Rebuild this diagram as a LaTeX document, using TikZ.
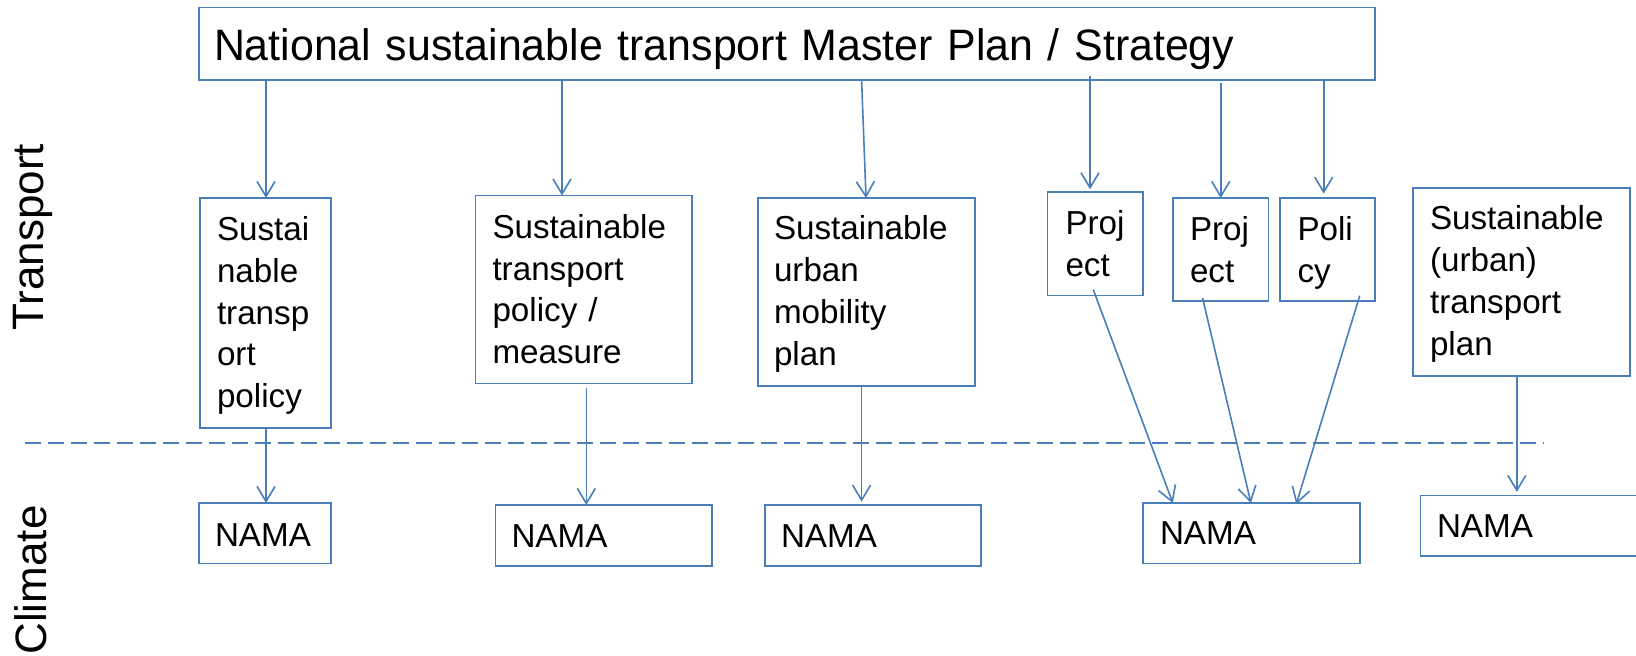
\documentclass[tikz,border=0pt]{standalone}
\usepackage{fontspec}
\setmainfont{Liberation Sans}
\newfontfamily\condfont[FakeStretch=0.975]{Liberation Sans}
\usetikzlibrary{arrows.meta,calc}
\definecolor{lc}{RGB}{74,126,187}
\begin{document}
\begin{tikzpicture}[x=0.5pt,y=-0.5pt,
  box/.style={draw=lc, line width=0.8pt, anchor=base west, align=left,
    inner ysep=0pt, outer sep=0pt, font=\fontsize{16.6}{20.9}\selectfont},
  arr/.style={draw=lc, line width=0.8pt, -{Straight Barb[length=7.5pt,width=9pt]}},
  sep/.style={draw=lc, line width=1pt, dash pattern=on 8pt off 3.5pt},
  lbl/.style={rotate=90, anchor=base west, inner sep=0pt, font=\fontsize{22}{26}\selectfont}]
\useasboundingbox (0,0) rectangle (1636,656);
\clip (0,0) rectangle (1636,656);
% boxes
\node[box, font=\condfont\fontsize{22}{26}\selectfont, inner xsep=7.5pt, text width=573pt, text height=26.75pt, text depth=9.5pt] (top) at (199,61) {National sustainable transport Master Plan / Strategy};
\node[box, inner xsep=8.5pt, text width=48.5pt, text height=21.25pt, text depth=93.75pt] (b1) at (200,240.5) {Sustai\\nable\\transp\\ort\\policy};
\node[box, inner xsep=8.5pt, text width=91.25pt, text height=21.4pt, text depth=72.6pt] (b2) at (475.5,238.3) {Sustainable\\transport\\policy /\\measure};
\node[box, inner xsep=8pt, text width=92.5pt, text height=21pt, text depth=73pt] (b3) at (758,240) {Sustainable\\urban\\mobility\\plan};
\node[box, inner xsep=9pt, text width=29.75pt, text height=21.5pt, text depth=30.25pt] (b4) at (1047.5,235) {Proj\\ect};
\node[box, inner xsep=8.5pt, text width=30.75pt, text height=21.35pt, text depth=30.15pt] (b5) at (1173,240.7) {Proj\\ect};
\node[box, inner xsep=8.75pt, text width=30pt, text height=21.35pt, text depth=30.15pt] (b6) at (1280,240.7) {Poli\\cy};
\node[box, inner xsep=8.5pt, text width=91.5pt, text height=21pt, text depth=73pt] (b7) at (1413,230) {Sustainable\\(urban)\\transport\\plan};
\node[box, inner xsep=8pt, text width=50pt, text height=21.5pt, text depth=8.75pt] (n1) at (199,546) {NAMA};
\node[box, inner xsep=8pt, text width=92.25pt, text height=21.5pt, text depth=9pt] (n2) at (495.5,548) {NAMA};
\node[box, inner xsep=8pt, text width=92pt, text height=21.5pt, text depth=9pt] (n3) at (765,548) {NAMA};
\node[box, inner xsep=8.5pt, text width=91.5pt, text height=21pt, text depth=9.25pt] (n4) at (1143,545) {NAMA};
\node[box, inner xsep=8.25pt, text width=98.25pt, text height=20.9pt, text depth=9.35pt] (n5) at (1420.5,537.3) {NAMA};
% side labels
\node[lbl] (tr) at (43.5,331) {Transport};
\node[lbl] (cl) at (46.5,655) {Climate};
% separator
\coordinate (sl) at (25,442.7);
\coordinate (sr) at (1543.4,442.7);
\draw[sep] (sl) -- (sr);
% connectors from the master plan
\draw[arr] (top.south -| 266,0) -- (b1.north -| 266,0);
\draw[arr] (top.south -| 562,0) -- (b2.north -| 562,0);
\draw[arr] (top.south -| 861.6,0) -- (b3.north -| 866,0);
\draw[arr] ($(top.south -| 1090,0)+(0,-4)$) -- ($(b4.north -| 1090,0)+(0,-2.7)$);
\draw[arr] ($(top.south -| 1220.7,0)+(0,3)$) -- (b5.north -| 1220.7,0);
\draw[arr] (top.south -| 1323.7,0) -- ($(b6.north -| 1323.7,0)+(0,-4.4)$);
% connectors to NAMAs
\draw[arr] (b1.south -| 266,0) -- (n1.north -| 266,0);
\draw[arr] ($(b2.south -| 586.3,0)+(0,4.5)$) -- (n2.north -| 586.3,0);
\draw[arr] (b3.south -| 861.6,0) -- ($(n3.north -| 861.6,0)+(0,-3.3)$);
\draw[arr] ($(b4.south -| 1093.2,0)+(0,-6)$) -- (n4.north -| 1172.8,0);
\draw[arr] ($(b5.south -| 1202.5,0)+(0,-3.3)$) -- (n4.north -| 1250.9,0);
\draw[arr] ($(b6.south -| 1359.7,0)+(0,-5.3)$) -- ($(n4.north -| 1296.2,0)+(0,1.3)$);
\draw[arr] (b7.south -| 1516.8,0) -- ($(n5.north -| 1516.8,0)+(0,-3.6)$);
\end{tikzpicture}
\end{document}
